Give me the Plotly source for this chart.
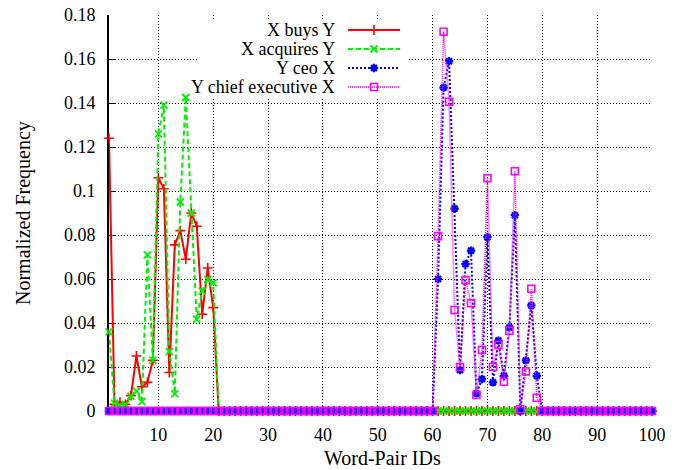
import plotly.graph_objects as go

# ---------------- data ----------------
word_pair_ids = list(range(1, 101))

x_buys_y = [
    0.124, 0.003, 0.004, 0.003, 0.007, 0.025, 0.011, 0.013, 0.023, 0.106,
    0.101, 0.0175, 0.0755, 0.082, 0.069, 0.090, 0.084, 0.044, 0.065, 0.047,
    0.0, 0.0, 0.0, 0.0, 0.0, 0.0, 0.0, 0.0, 0.0, 0.0,
    0.0, 0.0, 0.0, 0.0, 0.0, 0.0, 0.0, 0.0, 0.0, 0.0,
    0.0, 0.0, 0.0, 0.0, 0.0, 0.0, 0.0, 0.0, 0.0, 0.0,
    0.0, 0.0, 0.0, 0.0, 0.0, 0.0, 0.0, 0.0, 0.0, 0.0,
    0.0, 0.0, 0.0, 0.0, 0.0, 0.0, 0.0, 0.0, 0.0, 0.0,
    0.0, 0.0, 0.0, 0.0, 0.0, 0.0, 0.0, 0.0, 0.0, 0.0,
    0.0, 0.0, 0.0, 0.0, 0.0, 0.0, 0.0, 0.0, 0.0, 0.0,
    0.0, 0.0, 0.0, 0.0, 0.0, 0.0, 0.0, 0.0, 0.0, 0.0,
]

x_acquires_y = [
    0.036, 0.0035, 0.0025, 0.003, 0.0067, 0.009, 0.0043, 0.071, 0.023, 0.126,
    0.139, 0.027, 0.0078, 0.095, 0.1425, 0.090, 0.0417, 0.0545, 0.0598, 0.0583,
    0.0, 0.0, 0.0, 0.0, 0.0, 0.0, 0.0, 0.0, 0.0, 0.0,
    0.0, 0.0, 0.0, 0.0, 0.0, 0.0, 0.0, 0.0, 0.0, 0.0,
    0.0, 0.0, 0.0, 0.0, 0.0, 0.0, 0.0, 0.0, 0.0, 0.0,
    0.0, 0.0, 0.0, 0.0, 0.0, 0.0, 0.0, 0.0, 0.0, 0.0,
    0.0, 0.0, 0.0, 0.0, 0.0, 0.0, 0.0, 0.0, 0.0, 0.0,
    0.0, 0.0, 0.0, 0.0, 0.0, 0.0, 0.0, 0.0, 0.0, 0.0,
    0.0, 0.0, 0.0, 0.0, 0.0, 0.0, 0.0, 0.0, 0.0, 0.0,
    0.0, 0.0, 0.0, 0.0, 0.0, 0.0, 0.0, 0.0, 0.0, 0.0,
]

y_ceo_x = [
    0.0, 0.0, 0.0, 0.0, 0.0, 0.0, 0.0, 0.0, 0.0, 0.0,
    0.0, 0.0, 0.0, 0.0, 0.0, 0.0, 0.0, 0.0, 0.0, 0.0,
    0.0, 0.0, 0.0, 0.0, 0.0, 0.0, 0.0, 0.0, 0.0, 0.0,
    0.0, 0.0, 0.0, 0.0, 0.0, 0.0, 0.0, 0.0, 0.0, 0.0,
    0.0, 0.0, 0.0, 0.0, 0.0, 0.0, 0.0, 0.0, 0.0, 0.0,
    0.0, 0.0, 0.0, 0.0, 0.0, 0.0, 0.0, 0.0, 0.0, 0.0,
    0.060, 0.147, 0.159, 0.092, 0.0186, 0.0668, 0.0729, 0.008, 0.0145, 0.079,
    0.013, 0.032, 0.016, 0.038, 0.089, 0.0, 0.023, 0.048, 0.016, 0.0,
    0.0, 0.0, 0.0, 0.0, 0.0, 0.0, 0.0, 0.0, 0.0, 0.0,
    0.0, 0.0, 0.0, 0.0, 0.0, 0.0, 0.0, 0.0, 0.0, 0.0,
]

y_chief_executive_x = [
    0.0, 0.0, 0.0, 0.0, 0.0, 0.0, 0.0, 0.0, 0.0, 0.0,
    0.0, 0.0, 0.0, 0.0, 0.0, 0.0, 0.0, 0.0, 0.0, 0.0,
    0.0, 0.0, 0.0, 0.0, 0.0, 0.0, 0.0, 0.0, 0.0, 0.0,
    0.0, 0.0, 0.0, 0.0, 0.0, 0.0, 0.0, 0.0, 0.0, 0.0,
    0.0, 0.0, 0.0, 0.0, 0.0, 0.0, 0.0, 0.0, 0.0, 0.0,
    0.0, 0.0, 0.0, 0.0, 0.0, 0.0, 0.0, 0.0, 0.0, 0.0,
    0.0795, 0.1724, 0.1406, 0.0459, 0.020, 0.0595, 0.049, 0.0073, 0.0277, 0.1058,
    0.020, 0.030, 0.0133, 0.0365, 0.109, 0.0008, 0.018, 0.0556, 0.006, 0.0,
    0.0, 0.0, 0.0, 0.0, 0.0, 0.0, 0.0, 0.0, 0.0, 0.0,
    0.0, 0.0, 0.0, 0.0, 0.0, 0.0, 0.0, 0.0, 0.0, 0.0,
]

series_names = ["X buys Y", "X acquires Y", "Y ceo X", "Y chief executive X"]
series_values = [x_buys_y, x_acquires_y, y_ceo_x, y_chief_executive_x]

x_tick_values = [10, 20, 30, 40, 50, 60, 70, 80, 90, 100]
y_tick_values = [0, 0.02, 0.04, 0.06, 0.08, 0.1, 0.12, 0.14, 0.16, 0.18]
X_RANGE = [1, 100]
Y_RANGE = [0, 0.18]

# ---------------- styles ----------------
FONT = "Liberation Serif, Times New Roman, serif"
styles = [
    dict(color="#ff0000", dash="solid", lw=2.0, symbol="cross-thin", ms=7, mlw=1.6),
    dict(color="#00f000", dash="5px,3px", lw=2.0, symbol="x-thin", ms=7, mlw=1.8),
    dict(color="#0000ff", dash="2px,2px", lw=2.0, symbol="asterisk", ms=7, mlw=2.2),
    dict(color="#ff00ff", dash="1px,1px", lw=1.5, symbol="square-open", ms=7, mlw=1.6),
]

fig = go.Figure()

for name, vals, st in zip(series_names, series_values, styles):
    fig.add_trace(go.Scatter(
        x=word_pair_ids, y=vals, name=name, mode="lines+markers",
        line=dict(color=st["color"], width=st["lw"], dash=st["dash"]),
        marker=dict(symbol=st["symbol"], size=st["ms"], color=st["color"],
                    line=dict(color=st["color"], width=st["mlw"])),
        cliponaxis=False, showlegend=False,
    ))

# ---------------- gnuplot-style key (pixel overlay axes) ----------------
L, R, T, B = 109, 28, 15, 59
W, H = 680, 470
PW, PH = W - L - R, H - T - B
key_rows = [30, 49, 68, 87]
key_text_right = 337
key_sample = [348, 374, 400]


def px_to_x(px):
    return X_RANGE[0] + (px - L) / PW * (X_RANGE[1] - X_RANGE[0])


def px_to_y(py):
    return Y_RANGE[0] + (H - B - py) / PH * (Y_RANGE[1] - Y_RANGE[0])


for name, st, ry in zip(series_names, styles, key_rows):
    fig.add_trace(go.Scatter(
        x=key_sample, y=[ry, ry, ry], xaxis="x2", yaxis="y2",
        mode="lines+markers",
        line=dict(color=st["color"], width=st["lw"], dash=st["dash"]),
        marker=dict(symbol=st["symbol"], size=st["ms"], color=st["color"],
                    opacity=[0, 1, 0],
                    line=dict(color=st["color"], width=st["mlw"])),
        showlegend=False, hoverinfo="skip",
    ))
    fig.add_annotation(
        x=key_text_right, y=ry, xref="x2", yref="y2", text=name,
        showarrow=False, xanchor="right", yanchor="middle",
        font=dict(family=FONT, size=18, color="black"),
    )

# opaque key box (above the grid, below the data)
fig.add_shape(type="rect", xref="x", yref="y",
              x0=px_to_x(198), x1=px_to_x(407), y0=px_to_y(99), y1=px_to_y(19),
              fillcolor="white", line=dict(width=0), layer="between")

# axis titles
fig.add_annotation(
    x=(382 - L) / PW, y=(H - B - 458) / PH, xref="paper", yref="paper",
    text="Word-Pair IDs", showarrow=False, xanchor="center", yanchor="middle",
    font=dict(family=FONT, size=20, color="black"),
)
fig.add_annotation(
    x=(23 - L) / PW, y=0.5, xref="paper", yref="paper",
    text="Normalized Frequency", showarrow=False, textangle=-90,
    xanchor="center", yanchor="middle",
    font=dict(family=FONT, size=20, color="black"),
)

grid_style = dict(showgrid=True, gridcolor="#000000", gridwidth=1, griddash="1px,2px")

fig.update_layout(
    width=W, height=H,
    margin=dict(l=L, r=R, t=T, b=B, pad=0, autoexpand=False),
    paper_bgcolor="white", plot_bgcolor="white",
    font=dict(family=FONT, size=18, color="black"),
    hovermode=False,
    xaxis=dict(range=X_RANGE, tickvals=x_tick_values, ticks="inside", ticklen=4,
               tickwidth=1, tickcolor="black", showline=True, linecolor="black",
               linewidth=2, zeroline=False, layer="below traces",
               ticklabelstandoff=6, tickfont=dict(family=FONT, size=18),
               **grid_style),
    yaxis=dict(range=Y_RANGE, tickvals=y_tick_values, ticks="inside", ticklen=6,
               tickwidth=1, tickcolor="black", showline=True, linecolor="black",
               linewidth=2, zeroline=False, layer="below traces",
               ticklabelstandoff=8, tickfont=dict(family=FONT, size=18),
               **grid_style),
    xaxis2=dict(range=[L, W - R], overlaying="x", side="top", visible=False,
                showgrid=False, zeroline=False),
    yaxis2=dict(range=[H - B, T], overlaying="y", side="right", visible=False,
                showgrid=False, zeroline=False),
)

fig.write_html(
    "out.html",
    config={"displayModeBar": False},
    post_script="document.body.style.margin='0px';document.body.style.padding='0px';",
)
